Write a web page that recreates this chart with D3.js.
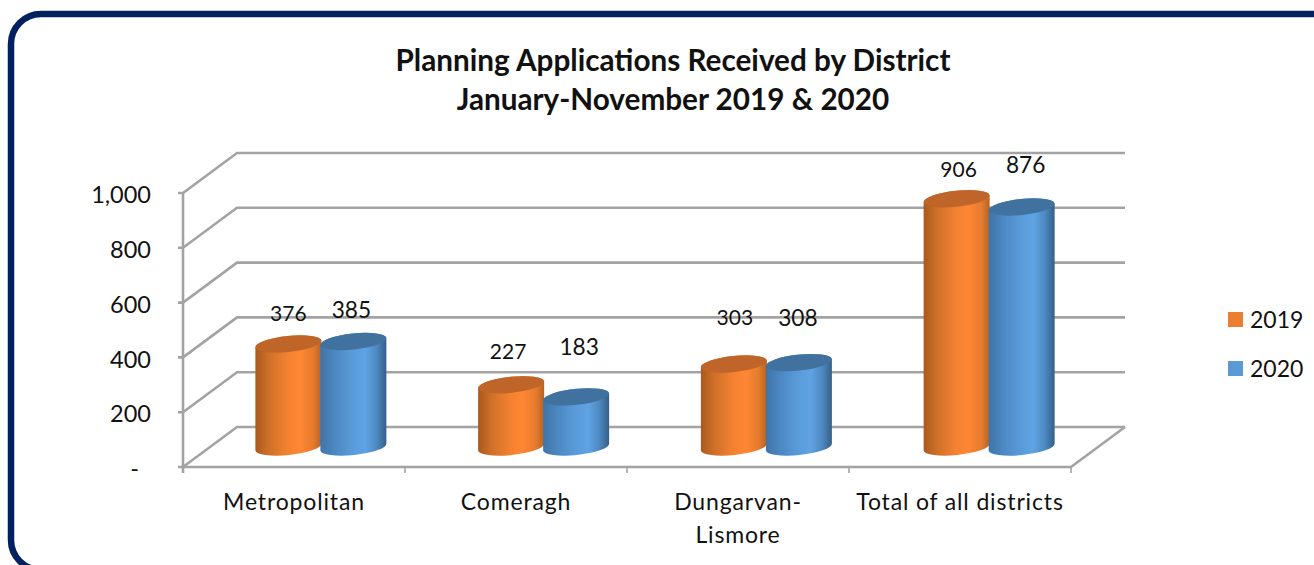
<!DOCTYPE html>
<html><head><meta charset="utf-8">
<script src="https://cdn.jsdelivr.net/npm/d3@7/dist/d3.min.js"></script>
<style>html,body{margin:0;padding:0;background:#fff;overflow:hidden}svg{display:block}text{font-family:Lato,"Open Sans",sans-serif;fill:#111}</style>
</head><body><svg id="c" width="1314" height="565"></svg>
<script>
const titleLines = ["Planning Applications Received by District","January-November 2019 & 2020"];
const categories = [["Metropolitan"],["Comeragh"],["Dungarvan-","Lismore"],["Total of all districts"]];
const seriesNames = ["2019","2020"];
const values2019 = [376,227,303,906];
const values2020 = [385,183,308,876];
const yTicks = [0,200,400,600,800,1000];
const tickLabels = ["-","200","400","600","800","1,000"];
// hand-placed data label nudges (px) from the reference
const labelNudge2019 = [[0,-30],[-3,-33],[1,-46],[2,-29]];
const labelNudge2020 = [[-2,-31],[3,-50],[-1,-45],[4,-42]];

const svg = d3.select("#c");
const x0 = d3.scaleBand().domain(d3.range(categories.length)).range([183,1071]);
const barX = d3.scaleBand().domain(d3.range(categories.length)).range([209.5,1100.5]);
const x1 = d3.scaleBand().domain(seriesNames).range([-65,65]);
const y = d3.scaleLinear().domain([0,1000]).range([467,193]);
const depth = {x:54,y:-40};
const grid = "#A3A3A3";

svg.append("rect").attr("x",11).attr("y",14).attr("width",1400).attr("height",556)
  .attr("rx",30).attr("fill","#fff").attr("stroke","#002060").attr("stroke-width",6.5);

const defs = svg.append("defs");
function grad(id,stops){
  const g = defs.append("linearGradient").attr("id",id);
  stops.forEach(s=>g.append("stop").attr("offset",s[0]).attr("stop-color",s[1]));
}
grad("g2019",[[0,"#A9591E"],[0.2,"#CF7028"],[0.5,"#F58231"],[0.68,"#FF8733"],[0.88,"#E47A2E"],[1,"#B9631F"]]);
grad("g2020",[[0,"#3F74A8"],[0.22,"#4C88C2"],[0.5,"#5A9CDB"],[0.68,"#5FA3E4"],[0.86,"#4D87BF"],[1,"#335F88"]]);
const topFill = {"2019":"#C0652A","2020":"#41729F"};

// walls and floor
const gridG = svg.append("g").attr("fill","none").attr("stroke",grid).attr("stroke-width",2.6);
yTicks.forEach(t=>{
  gridG.append("path").attr("d",d3.line()([[178,y(t)],[183,y(t)],[183+depth.x,y(t)+depth.y],[1071+depth.x,y(t)+depth.y]]));
});
gridG.append("path").attr("d",d3.line()([[183,y(1000)],[183,y(0)+6]]));
gridG.append("path").attr("d",d3.line()([[183,y(0)],[1071,y(0)],[1071+depth.x,y(0)+depth.y]]));
x0.domain().concat(categories.length).forEach(i=>{
  const px = i<categories.length ? x0(i) : x0.range()[1];
  gridG.append("path").attr("d",d3.line()([[px,y(0)],[px,y(0)+6]])).attr("stroke-width",1.6);
});

// axis labels (the accounting-style dash for zero sits inset from the right edge)
yTicks.forEach((t,i)=>{
  svg.append("text").attr("x",t===0?139:151).attr("y",y(t)+2).attr("dy","0.35em").attr("text-anchor","end")
    .attr("font-size",23.5).text(tickLabels[i]);
});
categories.forEach((lines,i)=>{
  lines.forEach((l,j)=>{
    svg.append("text").attr("x",x0(i)+x0.bandwidth()/2).attr("y",502+j*33).attr("dy","0.35em")
      .attr("text-anchor","middle").attr("font-size",23).attr("letter-spacing",0.85).text(l);
  });
});

// cylinders
const rx = 33, ry = 8, tilt = -6, rad = tilt*Math.PI/180;
const dy = rx*Math.sin(rad);
function cylinder(i,name,v){
  const cx = barX(i)+barX.bandwidth()/2+x1(name)+x1.bandwidth()/2;
  const yb = y(0)+depth.y/2, yt = y(v)+depth.y/2;
  const a = `A${rx},${ry} ${tilt} 0 `;
  svg.append("path").attr("fill",`url(#g${name})`)
    .attr("d",`M${cx-rx},${yt-dy} L${cx-rx},${yb-dy} ${a}0 ${cx+rx},${yb+dy} L${cx+rx},${yt+dy} ${a}0 ${cx-rx},${yt-dy}Z`);
  svg.append("ellipse").attr("cx",cx).attr("cy",yt).attr("rx",rx).attr("ry",ry)
    .attr("transform",`rotate(${tilt} ${cx} ${yt})`).attr("fill",topFill[name]);
  return {cx,yt};
}
const labels = [];
categories.forEach((c,i)=>{
  const a = cylinder(i,"2019",values2019[i]);
  labels.push([a.cx+labelNudge2019[i][0],a.yt+labelNudge2019[i][1],values2019[i],21]);
  const b = cylinder(i,"2020",values2020[i]);
  labels.push([b.cx+labelNudge2020[i][0],b.yt+labelNudge2020[i][1],values2020[i],22.7]);
});
labels.forEach(l=>{
  svg.append("text").attr("x",l[0]).attr("y",l[1]).attr("dy","0.35em").attr("text-anchor","middle")
    .attr("font-size",l[3]).text(l[2]);
});

// title
titleLines.forEach((t,i)=>{
  svg.append("text").attr("x",673).attr("y",61+i*39).attr("dy","0.35em").attr("text-anchor","middle")
    .attr("font-size",29.7).attr("font-weight",700).text(t);
});

// legend
const legendColor = d3.scaleOrdinal(seriesNames,["#ED7D31","#5B9BD5"]);
seriesNames.forEach((n,i)=>{
  const ly = 320+i*49;
  svg.append("rect").attr("x",1228).attr("y",ly-8).attr("width",15).attr("height",15).attr("fill",legendColor(n));
  svg.append("text").attr("x",1250).attr("y",ly).attr("dy","0.35em").attr("font-size",23).text(n);
});
</script></body></html>
